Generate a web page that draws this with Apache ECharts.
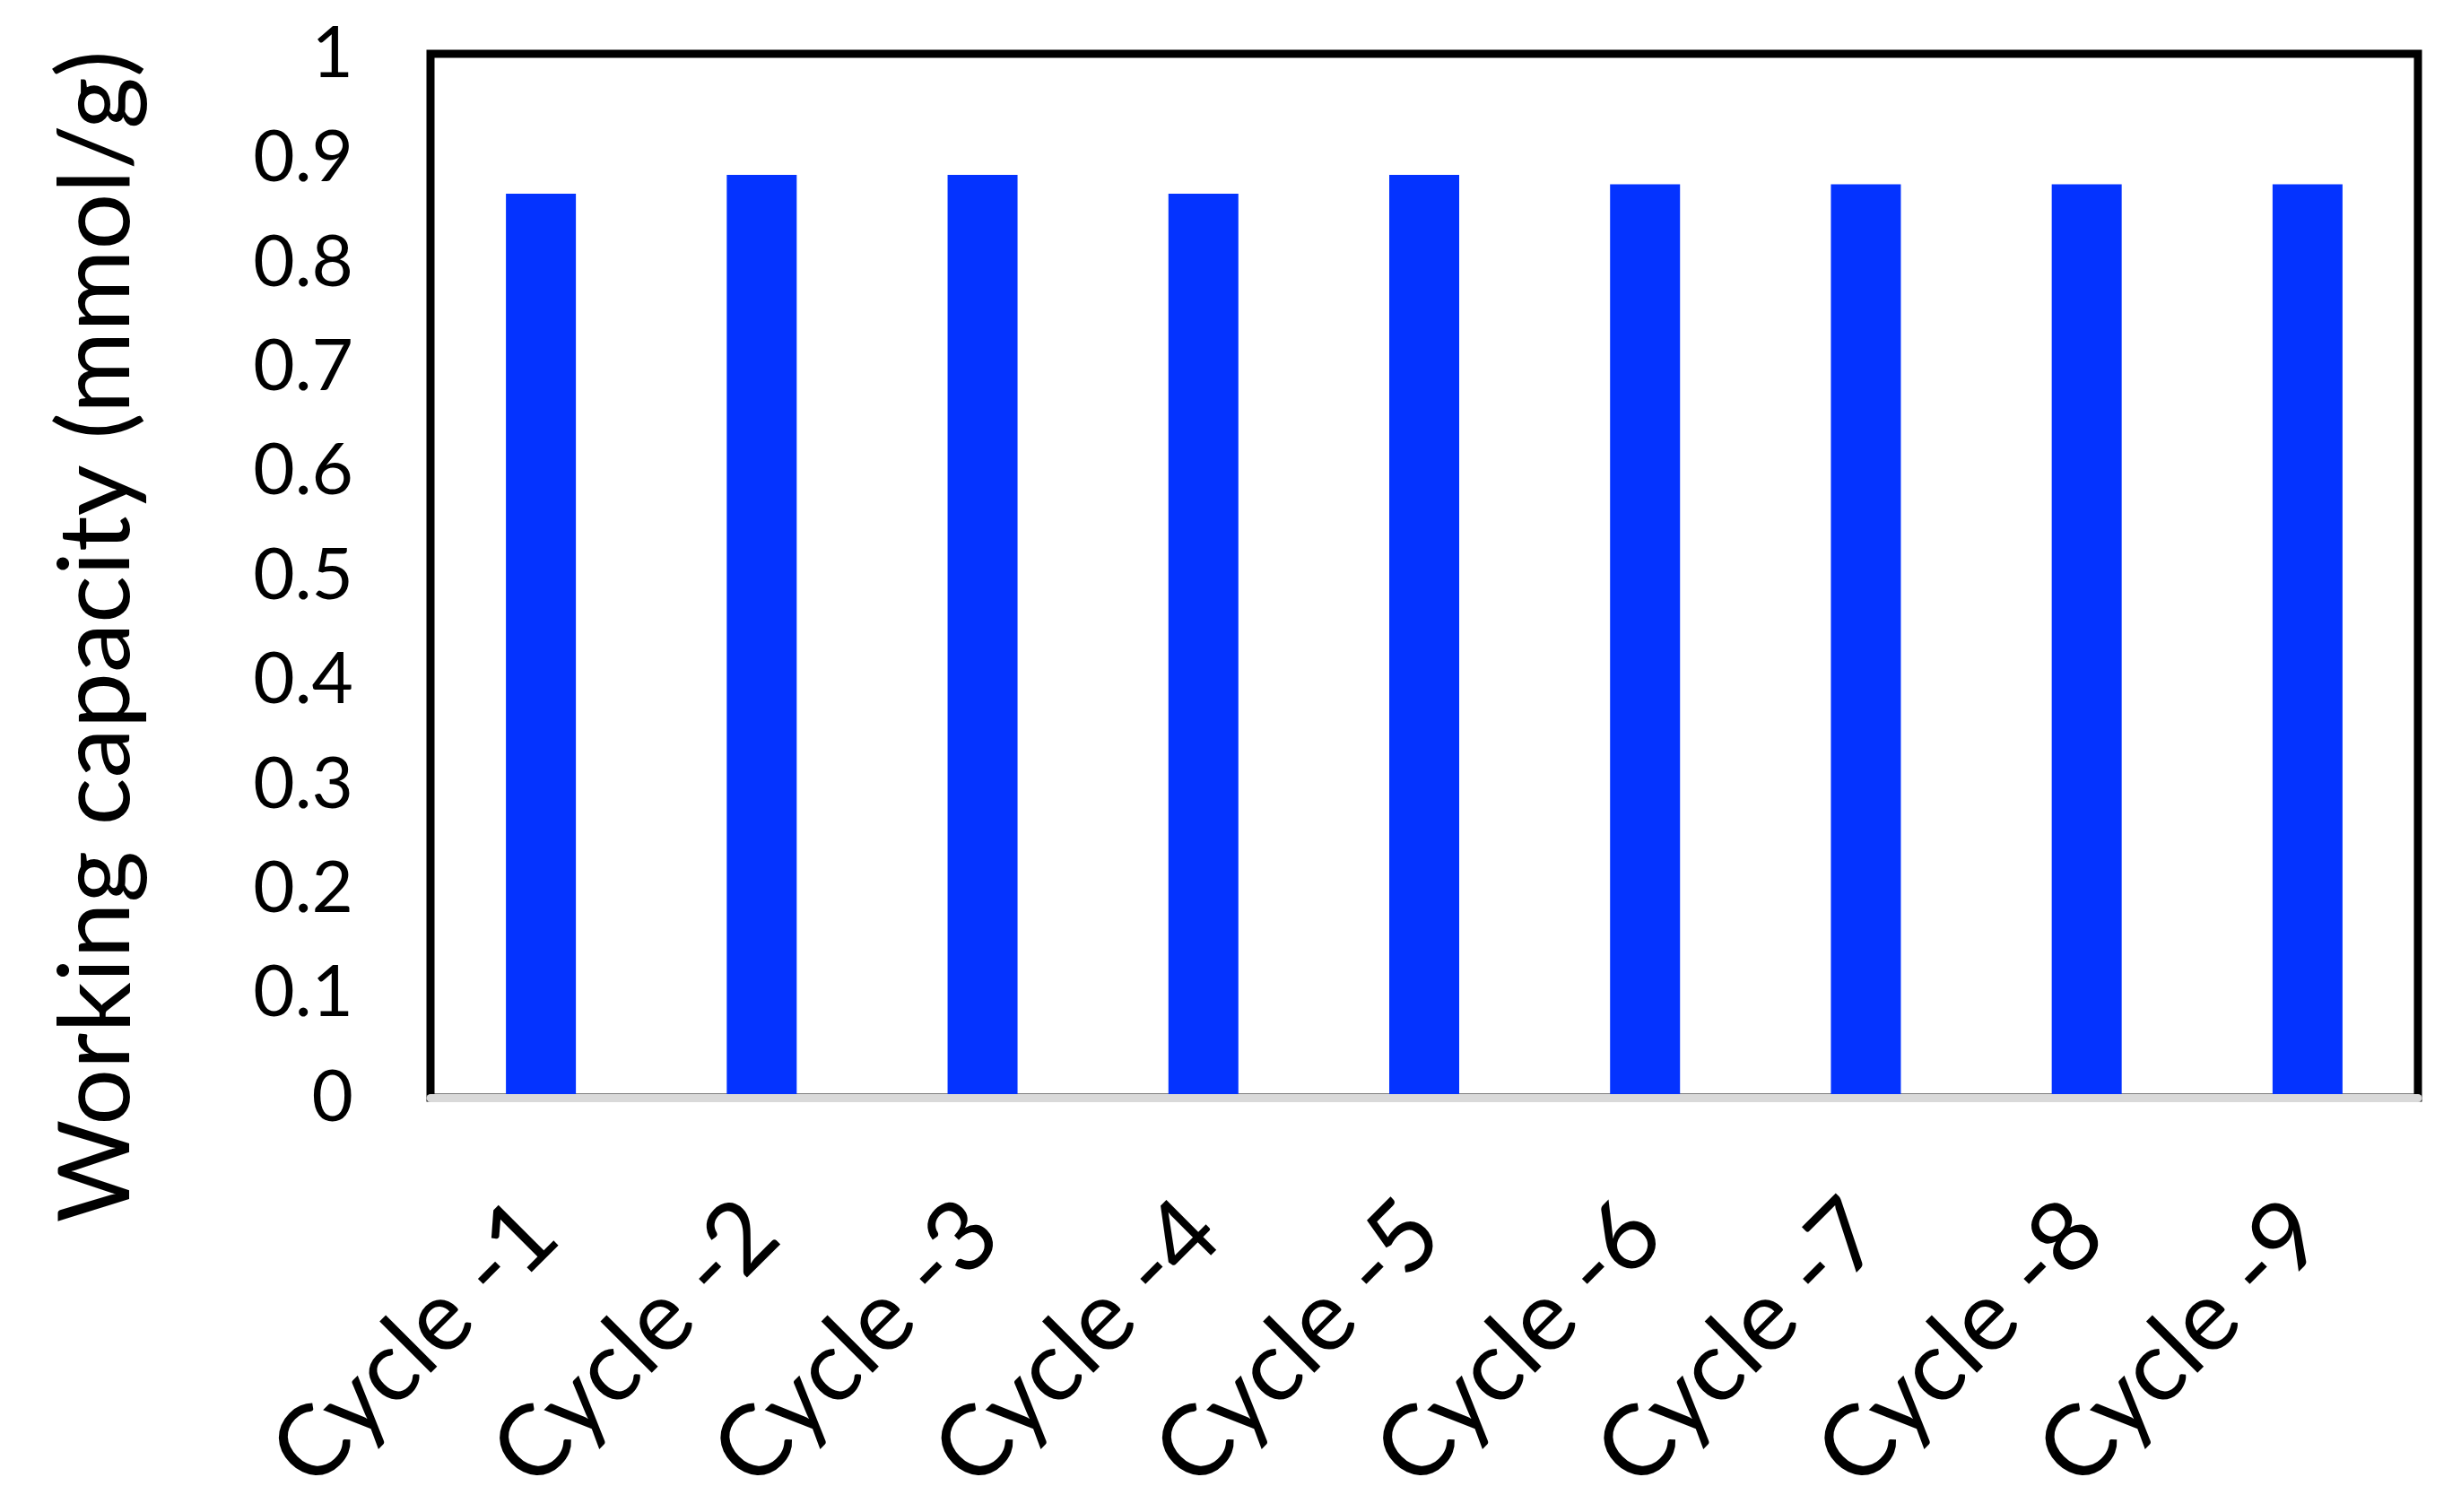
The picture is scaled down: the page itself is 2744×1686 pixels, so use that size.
<!DOCTYPE html>
<html>
<head>
<meta charset="utf-8">
<script src="https://cdn.jsdelivr.net/npm/echarts@6/dist/echarts.min.js"></script>
<style>
html,body{margin:0;padding:0;background:#fff;}
#chart{width:2744px;height:1686px;}
</style>
</head>
<body>
<div id="chart"></div>
<script>
const categories = ['Cycle -1','Cycle -2','Cycle -3','Cycle -4','Cycle -5','Cycle -6','Cycle -7','Cycle -8','Cycle -9'];
const workingCapacity = [0.866, 0.884, 0.884, 0.866, 0.884, 0.875, 0.875, 0.875, 0.875];
const yTicks = [0, 0.1, 0.2, 0.3, 0.4, 0.5, 0.6, 0.7, 0.8, 0.9, 1];
const yTitle = 'Working capacity (mmol/g)';

const chart = echarts.init(document.getElementById('chart'), null, {renderer:'canvas'});
const FONT = 'Lato';
chart.setOption({
  animation: false,
  backgroundColor: '#ffffff',
  grid: {
    left: 480, top: 60, right: 48, height: 1164,
    show: true, borderColor: '#000000', borderWidth: 9, backgroundColor: 'transparent'
  },
  xAxis: {
    type: 'category',
    data: categories,
    z: 5,
    axisLine: {show: true, lineStyle: {color: '#d9d9d9', width: 9}},
    axisTick: {show: false},
    axisLabel: {
      interval: 0, rotate: 45, margin: 134,
      fontFamily: FONT, fontSize: 110, color: '#000000'
    }
  },
  yAxis: {
    type: 'value',
    min: 0, max: 1, interval: 0.1,
    axisLine: {show: false},
    axisTick: {show: false},
    splitLine: {show: false},
    axisLabel: {
      margin: 86, fontFamily: FONT, fontSize: 80, color: '#000000',
      formatter: function (v) { const r = Math.round(v * 10) / 10; return yTicks.indexOf(r) >= 0 ? String(r) : ''; }
    }
  },
  graphic: [{
    type: 'text',
    x: 108, y: 710,
    rotation: Math.PI / 2,
    style: {
      text: yTitle,
      font: '111px ' + FONT,
      fill: '#000000',
      textAlign: 'center',
      textVerticalAlign: 'middle'
    }
  }],
  series: [{
    type: 'bar',
    data: workingCapacity,
    barWidth: 78,
    itemStyle: {color: '#0433ff'}
  }]
});
</script>
</body>
</html>
